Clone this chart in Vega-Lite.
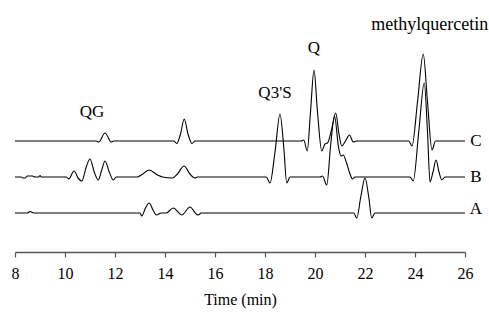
{
  "$schema": "https://vega.github.io/schema/vega-lite/v6.json",
  "width": 450,
  "height": 252,
  "autosize": {"type": "none"},
  "padding": {"left": 15, "top": 0, "right": 24, "bottom": 75},
  "background": "white",
  "config": {"view": {"stroke": null}, "font": "Liberation Serif", "text": {"font": "Liberation Serif"}, "mark": {"font": "Liberation Serif"}},
  "datasets": {
    "traces": [
      {"trace": "C", "time": 8, "signal": 111},
      {"trace": "C", "time": 11.25, "signal": 111},
      {"trace": "C", "time": 11.35, "signal": 110},
      {"trace": "C", "time": 11.6, "signal": 119},
      {"trace": "C", "time": 11.85, "signal": 110},
      {"trace": "C", "time": 11.95, "signal": 111},
      {"trace": "C", "time": 14.35, "signal": 111},
      {"trace": "C", "time": 14.47, "signal": 108.5},
      {"trace": "C", "time": 14.62, "signal": 118},
      {"trace": "C", "time": 14.77, "signal": 133},
      {"trace": "C", "time": 14.92, "signal": 118},
      {"trace": "C", "time": 15.08, "signal": 108.5},
      {"trace": "C", "time": 15.2, "signal": 111},
      {"trace": "C", "time": 19.45, "signal": 111},
      {"trace": "C", "time": 19.55, "signal": 112},
      {"trace": "C", "time": 19.69, "signal": 101},
      {"trace": "C", "time": 19.82, "signal": 140},
      {"trace": "C", "time": 19.96, "signal": 182},
      {"trace": "C", "time": 20.1, "signal": 140},
      {"trace": "C", "time": 20.27, "signal": 101},
      {"trace": "C", "time": 20.4, "signal": 108},
      {"trace": "C", "time": 20.5, "signal": 109},
      {"trace": "C", "time": 20.66, "signal": 122},
      {"trace": "C", "time": 20.83, "signal": 139},
      {"trace": "C", "time": 20.96, "signal": 118},
      {"trace": "C", "time": 21.07, "signal": 106},
      {"trace": "C", "time": 21.22, "signal": 111},
      {"trace": "C", "time": 21.38, "signal": 117},
      {"trace": "C", "time": 21.53, "signal": 110},
      {"trace": "C", "time": 21.65, "signal": 111},
      {"trace": "C", "time": 23.75, "signal": 111},
      {"trace": "C", "time": 23.88, "signal": 106},
      {"trace": "C", "time": 24.1, "signal": 150},
      {"trace": "C", "time": 24.33, "signal": 198},
      {"trace": "C", "time": 24.5, "signal": 150},
      {"trace": "C", "time": 24.68, "signal": 102},
      {"trace": "C", "time": 24.82, "signal": 111},
      {"trace": "C", "time": 26, "signal": 111},
      {"trace": "B", "time": 8, "signal": 75},
      {"trace": "B", "time": 8.25, "signal": 75},
      {"trace": "B", "time": 8.3, "signal": 74},
      {"trace": "B", "time": 8.4, "signal": 74},
      {"trace": "B", "time": 8.5, "signal": 76},
      {"trace": "B", "time": 8.7, "signal": 76},
      {"trace": "B", "time": 8.8, "signal": 75},
      {"trace": "B", "time": 8.95, "signal": 75},
      {"trace": "B", "time": 9.0, "signal": 76.5},
      {"trace": "B", "time": 9.05, "signal": 75},
      {"trace": "B", "time": 10.05, "signal": 75},
      {"trace": "B", "time": 10.15, "signal": 73},
      {"trace": "B", "time": 10.36, "signal": 81},
      {"trace": "B", "time": 10.55, "signal": 73},
      {"trace": "B", "time": 10.67, "signal": 71},
      {"trace": "B", "time": 10.85, "signal": 85},
      {"trace": "B", "time": 11.0, "signal": 93},
      {"trace": "B", "time": 11.17, "signal": 80},
      {"trace": "B", "time": 11.33, "signal": 72},
      {"trace": "B", "time": 11.47, "signal": 82},
      {"trace": "B", "time": 11.6, "signal": 91},
      {"trace": "B", "time": 11.77, "signal": 80},
      {"trace": "B", "time": 11.93, "signal": 72},
      {"trace": "B", "time": 12.05, "signal": 75},
      {"trace": "B", "time": 12.9, "signal": 75},
      {"trace": "B", "time": 13.05, "signal": 77},
      {"trace": "B", "time": 13.37, "signal": 82},
      {"trace": "B", "time": 13.7, "signal": 77},
      {"trace": "B", "time": 13.9, "signal": 75},
      {"trace": "B", "time": 14.3, "signal": 74},
      {"trace": "B", "time": 14.5, "signal": 78},
      {"trace": "B", "time": 14.76, "signal": 86},
      {"trace": "B", "time": 15.0, "signal": 78},
      {"trace": "B", "time": 15.2, "signal": 74},
      {"trace": "B", "time": 15.3, "signal": 75},
      {"trace": "B", "time": 18.05, "signal": 75},
      {"trace": "B", "time": 18.2, "signal": 69},
      {"trace": "B", "time": 18.4, "signal": 100},
      {"trace": "B", "time": 18.6, "signal": 138},
      {"trace": "B", "time": 18.75, "signal": 105},
      {"trace": "B", "time": 18.87, "signal": 69},
      {"trace": "B", "time": 19.0, "signal": 75},
      {"trace": "B", "time": 20.2, "signal": 75},
      {"trace": "B", "time": 20.3, "signal": 76},
      {"trace": "B", "time": 20.47, "signal": 67},
      {"trace": "B", "time": 20.63, "signal": 108},
      {"trace": "B", "time": 20.78, "signal": 136},
      {"trace": "B", "time": 20.94, "signal": 105},
      {"trace": "B", "time": 21.04, "signal": 96},
      {"trace": "B", "time": 21.13, "signal": 97},
      {"trace": "B", "time": 21.25, "signal": 90},
      {"trace": "B", "time": 21.4, "signal": 78},
      {"trace": "B", "time": 21.5, "signal": 73},
      {"trace": "B", "time": 21.6, "signal": 75},
      {"trace": "B", "time": 23.8, "signal": 75},
      {"trace": "B", "time": 23.93, "signal": 71},
      {"trace": "B", "time": 24.15, "signal": 120},
      {"trace": "B", "time": 24.37, "signal": 169},
      {"trace": "B", "time": 24.5, "signal": 120},
      {"trace": "B", "time": 24.6, "signal": 70},
      {"trace": "B", "time": 24.72, "signal": 80},
      {"trace": "B", "time": 24.84, "signal": 92},
      {"trace": "B", "time": 24.96, "signal": 80},
      {"trace": "B", "time": 25.07, "signal": 72},
      {"trace": "B", "time": 25.2, "signal": 75},
      {"trace": "B", "time": 26, "signal": 75},
      {"trace": "A", "time": 8, "signal": 39},
      {"trace": "A", "time": 8.5, "signal": 39},
      {"trace": "A", "time": 8.6, "signal": 40.5},
      {"trace": "A", "time": 8.75, "signal": 39},
      {"trace": "A", "time": 13.0, "signal": 39},
      {"trace": "A", "time": 13.07, "signal": 36},
      {"trace": "A", "time": 13.22, "signal": 44},
      {"trace": "A", "time": 13.37, "signal": 49},
      {"trace": "A", "time": 13.52, "signal": 42},
      {"trace": "A", "time": 13.65, "signal": 37},
      {"trace": "A", "time": 13.85, "signal": 39},
      {"trace": "A", "time": 14.05, "signal": 39},
      {"trace": "A", "time": 14.33, "signal": 44},
      {"trace": "A", "time": 14.6, "signal": 38},
      {"trace": "A", "time": 14.67, "signal": 37},
      {"trace": "A", "time": 15.0, "signal": 45},
      {"trace": "A", "time": 15.25, "signal": 38},
      {"trace": "A", "time": 15.33, "signal": 37},
      {"trace": "A", "time": 15.45, "signal": 39},
      {"trace": "A", "time": 21.55, "signal": 39},
      {"trace": "A", "time": 21.67, "signal": 34},
      {"trace": "A", "time": 21.83, "signal": 55},
      {"trace": "A", "time": 22.0, "signal": 74},
      {"trace": "A", "time": 22.15, "signal": 55},
      {"trace": "A", "time": 22.27, "signal": 34},
      {"trace": "A", "time": 22.4, "signal": 39},
      {"trace": "A", "time": 26, "signal": 39}
    ],
    "labels": [
      {"time": 11.08, "signal": 140.5, "label": "QG", "kind": "peak"},
      {"time": 18.4, "signal": 159, "label": "Q3'S", "kind": "peak"},
      {"time": 19.96, "signal": 204, "label": "Q", "kind": "peak"},
      {"time": 24.59, "signal": 227, "label": "methylquercetin", "kind": "main"},
      {"time": 26.44, "signal": 111, "label": "C", "kind": "trace"},
      {"time": 26.44, "signal": 75, "label": "B", "kind": "trace"},
      {"time": 26.44, "signal": 43, "label": "A", "kind": "trace"}
    ]
  },
  "layer": [
    {
      "data": {"name": "traces"},
      "mark": {"type": "line", "color": "black", "strokeWidth": 1.1, "interpolate": "monotone"},
      "encoding": {
        "x": {
          "field": "time",
          "type": "quantitative",
          "scale": {"domain": [8, 26], "nice": false, "zero": false},
          "axis": {
            "title": "Time (min)",
            "values": [8, 10, 12, 14, 16, 18, 20, 22, 24, 26],
            "grid": false,
            "domainColor": "#555555",
            "tickColor": "#555555",
            "domainWidth": 1.5,
            "tickWidth": 1.2,
            "tickSize": 5,
            "labelFont": "Liberation Serif",
            "labelFontSize": 16,
            "labelColor": "black",
            "labelPadding": 8,
            "labelFlush": false,
            "titleFont": "Liberation Serif",
            "titleFontSize": 16,
            "titleFontWeight": "normal",
            "titleColor": "black",
            "titlePadding": 10
          }
        },
        "y": {
          "field": "signal",
          "type": "quantitative",
          "scale": {"domain": [0, 252], "nice": false, "zero": false},
          "axis": null
        },
        "detail": {"field": "trace"}
      }
    },
    {
      "data": {"name": "labels"},
      "transform": [{"filter": "datum.kind != 'main'"}],
      "mark": {"type": "text", "font": "Liberation Serif", "fontSize": 17, "color": "black", "baseline": "middle", "align": "center"},
      "encoding": {
        "x": {"field": "time", "type": "quantitative"},
        "y": {"field": "signal", "type": "quantitative"},
        "text": {"field": "label"}
      }
    },
    {
      "data": {"name": "labels"},
      "transform": [{"filter": "datum.kind == 'main'"}],
      "mark": {"type": "text", "font": "Liberation Serif", "fontSize": 18, "fontWeight": 500, "color": "black", "baseline": "middle", "align": "center"},
      "encoding": {
        "x": {"field": "time", "type": "quantitative"},
        "y": {"field": "signal", "type": "quantitative"},
        "text": {"field": "label"}
      }
    }
  ]
}
